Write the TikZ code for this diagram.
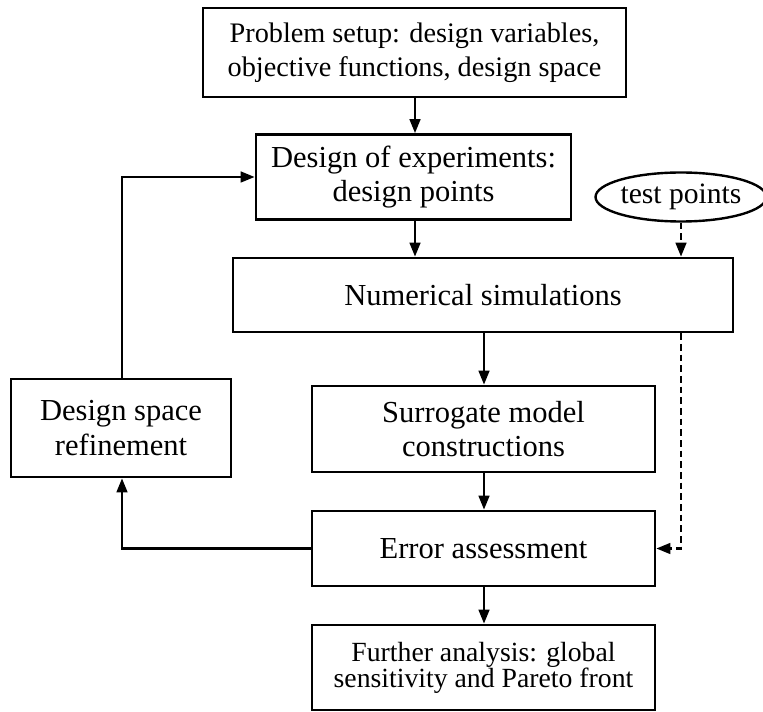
\documentclass[tikz,border=0pt]{standalone}
\usepackage{fontspec}
\setmainfont{Liberation Serif}
\usetikzlibrary{arrows.meta,shapes.geometric}
\tikzset{
  box/.style={draw, line width=2pt, inner sep=0pt, align=center, font=\fontsize{22.9}{26}\selectfont},
  smallbox/.style={box, font=\fontsize{21.2}{25.5}\selectfont},
  oval/.style={draw, ellipse, line width=1.8pt, inner sep=0pt, font=\fontsize{22.2}{26}\selectfont},
  conn/.style={line width=1.8pt, -{Triangle[length=10.5pt,width=8pt]}},
  dconn/.style={conn, dashed, dash pattern=on 5pt off 3pt}
}
\begin{document}
\begin{tikzpicture}[x=0.75pt,y=-0.75pt]
\useasboundingbox (0,0) rectangle (763,712);
\node[smallbox, minimum width=317.25pt, minimum height=66.75pt] (setup) at (414.5,52.5)
  {Problem setup: design variables,\\objective functions, design space};
\node[box, minimum width=236.25pt, minimum height=63.75pt] (doe) at (413.5,177)
  {Design of experiments:\\design points};
\node[oval, minimum width=121.5pt, minimum height=36.75pt] (test) at (681,197) {test points};
\node[box, minimum width=375pt, minimum height=55.5pt] (num) at (483,295) {Numerical simulations};
\node[box, minimum width=257.25pt, minimum height=64.5pt] (sur) at (483.5,429)
  {Surrogate model\\constructions};
\node[box, minimum width=165pt, minimum height=73.5pt] (ref) at (121,428)
  {Design space\\refinement};
\node[box, minimum width=257.25pt, minimum height=56.25pt] (err) at (483.5,548.5) {Error assessment};
\node[box, minimum width=257.25pt, minimum height=63.75pt, font=\fontsize{20.8}{19.5}\selectfont] (fur) at (483.5,667.5)
  {Further analysis: global\\sensitivity and Pareto front};
\coordinate (c1) at (415,0);
\coordinate (c2) at (484,0);
\coordinate (c3) at (122,0);
\draw[conn] (setup.south -| c1) -- (doe.north -| c1);
\draw[conn] (doe.south -| c1) -- (num.north -| c1);
\draw[conn] (num.south -| c2) -- (sur.north -| c2);
\draw[conn] (sur.south -| c2) -- (err.north -| c2);
\draw[conn] (err.south -| c2) -- (fur.north -| c2);
\draw[dconn] (test.south) -- (test.south |- num.north);
\draw[dconn] (num.south -| test.south) |- (err.east);
\draw[conn] (err.west) -| (ref.south -| c3);
\draw[conn] (ref.north -| c3) |- (doe.west);
\end{tikzpicture}
\end{document}
